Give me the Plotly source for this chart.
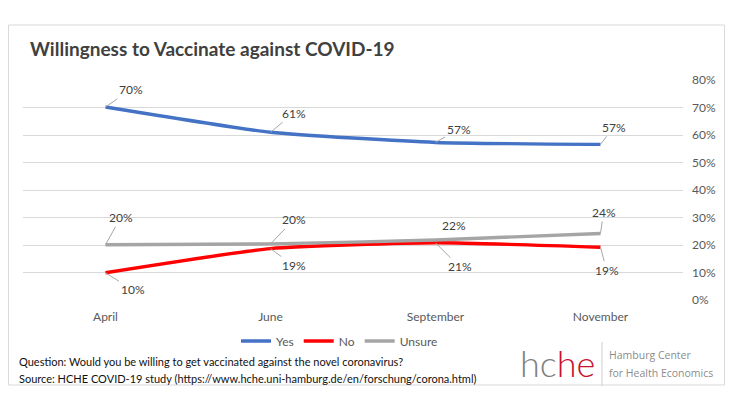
import plotly.graph_objects as go

# ---- data ----
months = ["April", "June", "September", "November"]
yes_vals = [70.2, 61.0, 57.3, 56.6]
no_vals = [9.9, 18.7, 20.8, 19.2]
unsure_vals = [20.1, 20.4, 21.8, 24.2]
y_ticks = [0, 10, 20, 30, 40, 50, 60, 70, 80]
y_tick_labels = [f"{t}%" for t in y_ticks]

# label offsets (px) and whether a leader line is drawn
series = [
    ("Yes", yes_vals, "#4472C4",
     [(25, -17, True), (23, -19, True), (23, -13, True), (13, -17, True)]),
    ("No", no_vals, "#FF0000",
     [(27, 17, True), (23, 17, True), (24, 24, True), (6, 23, True)]),
    ("Unsure", unsure_vals, "#A5A5A5",
     [(15, -27, True), (23, -24, True), (18, -15, False), (3, -21, True)]),
]

# figure sized to fit inside the page body (8px default margin)
W, H = 717, 398
OFF = 8
def px(x):
    return (x - OFF) / W
def py(y):
    return 1 - (y - OFF) / H

FONT = "Lato, 'Liberation Sans', sans-serif"

fig = go.Figure()
annotations = []
for name, vals, color, offs in series:
    fig.add_trace(go.Scatter(
        x=months, y=vals, name=name, mode="lines",
        line=dict(color=color, width=3.4, shape="spline", smoothing=0.5),
        hoverinfo="skip",
    ))
    for m, v, (dx, dy, lead) in zip(months, vals, offs):
        annotations.append(dict(
            x=m, y=v, xref="x", yref="y", text=f"{round(v)}%",
            showarrow=True, arrowhead=0, arrowwidth=1,
            arrowcolor="#A6A6A6" if lead else "rgba(0,0,0,0)",
            ax=dx, ay=dy, standoff=0, startstandoff=0,
            font=dict(family=FONT, size=12, color="#404040"),
        ))

# title
annotations.append(dict(
    x=px(28), y=py(49), xref="paper", yref="paper", xanchor="left", yanchor="middle",
    text="<b>Willingness to Vaccinate against COVID-19</b>", showarrow=False,
    font=dict(family=FONT, size=19, color="#404040"),
))
# footnotes
annotations.append(dict(
    x=px(17), y=py(361), xref="paper", yref="paper", xanchor="left", yanchor="middle",
    text="Question: Would you be willing to get vaccinated against the novel coronavirus?",
    showarrow=False, font=dict(family=FONT, size=11, color="#111111"),
))
annotations.append(dict(
    x=px(17), y=py(378), xref="paper", yref="paper", xanchor="left", yanchor="middle",
    text="Source: HCHE COVID-19 study (https://www.hche.uni-hamburg.de/en/forschung/corona.html)",
    showarrow=False, font=dict(family=FONT, size=11, color="#111111"),
))
# logo
annotations.append(dict(
    x=px(597), y=py(363), xref="paper", yref="paper", xanchor="right", yanchor="middle",
    text="<span style='color:#808080'>hc</span><span style='color:#C8102E'>he</span>",
    showarrow=False, font=dict(family=FONT, size=36, weight=300, color="#808080"),
))
annotations.append(dict(
    x=px(607), y=py(355), xref="paper", yref="paper", xanchor="left", yanchor="middle",
    text="Hamburg Center", showarrow=False,
    font=dict(family="'Open Sans', sans-serif", size=10.5, color="#8C8C8C"),
))
annotations.append(dict(
    x=px(607), y=py(373), xref="paper", yref="paper", xanchor="left", yanchor="middle",
    text="for Health Economics", showarrow=False,
    font=dict(family="'Open Sans', sans-serif", size=10.5, color="#8C8C8C"),
))

shapes = [
    dict(type="rect", xref="paper", yref="paper", x0=px(8.5), x1=px(724.5), y0=py(385), y1=py(25),
         line=dict(color="#D9D9D9", width=1), fillcolor="rgba(0,0,0,0)", layer="below"),
    dict(type="line", xref="paper", yref="paper", x0=px(602), x1=px(602), y0=py(342), y1=py(386),
         line=dict(color="#D0D0D0", width=1)),
]

fig.update_layout(
    width=W, height=H,
    margin=dict(l=0, r=0, t=0, b=0, autoexpand=False),
    paper_bgcolor="white", plot_bgcolor="white",
    font=dict(family=FONT, color="#595959", size=12),
    xaxis=dict(domain=[px(23), px(683)], range=[-0.5, 3.5], showgrid=False,
               showline=False, zeroline=False, ticks="", automargin=False,
               ticklabelstandoff=8,
               tickfont=dict(size=12, color="#595959"), fixedrange=True),
    yaxis=dict(domain=[py(300), py(80)], range=[0, 80], side="right",
               tickvals=y_ticks, ticktext=y_tick_labels, showgrid=True,
               gridcolor="#D9D9D9", gridwidth=1, zeroline=False, showline=False,
               ticklabelstandoff=8, automargin=False,
               tickfont=dict(size=12, color="#595959"), fixedrange=True),
    showlegend=True,
    legend=dict(orientation="h", x=px(236), y=py(341), xanchor="left", yanchor="middle",
                font=dict(size=12, color="#595959"), itemwidth=30, tracegroupgap=0,
                bgcolor="rgba(0,0,0,0)"),
    annotations=annotations,
    shapes=shapes,
)

fig.write_html("out.html")
